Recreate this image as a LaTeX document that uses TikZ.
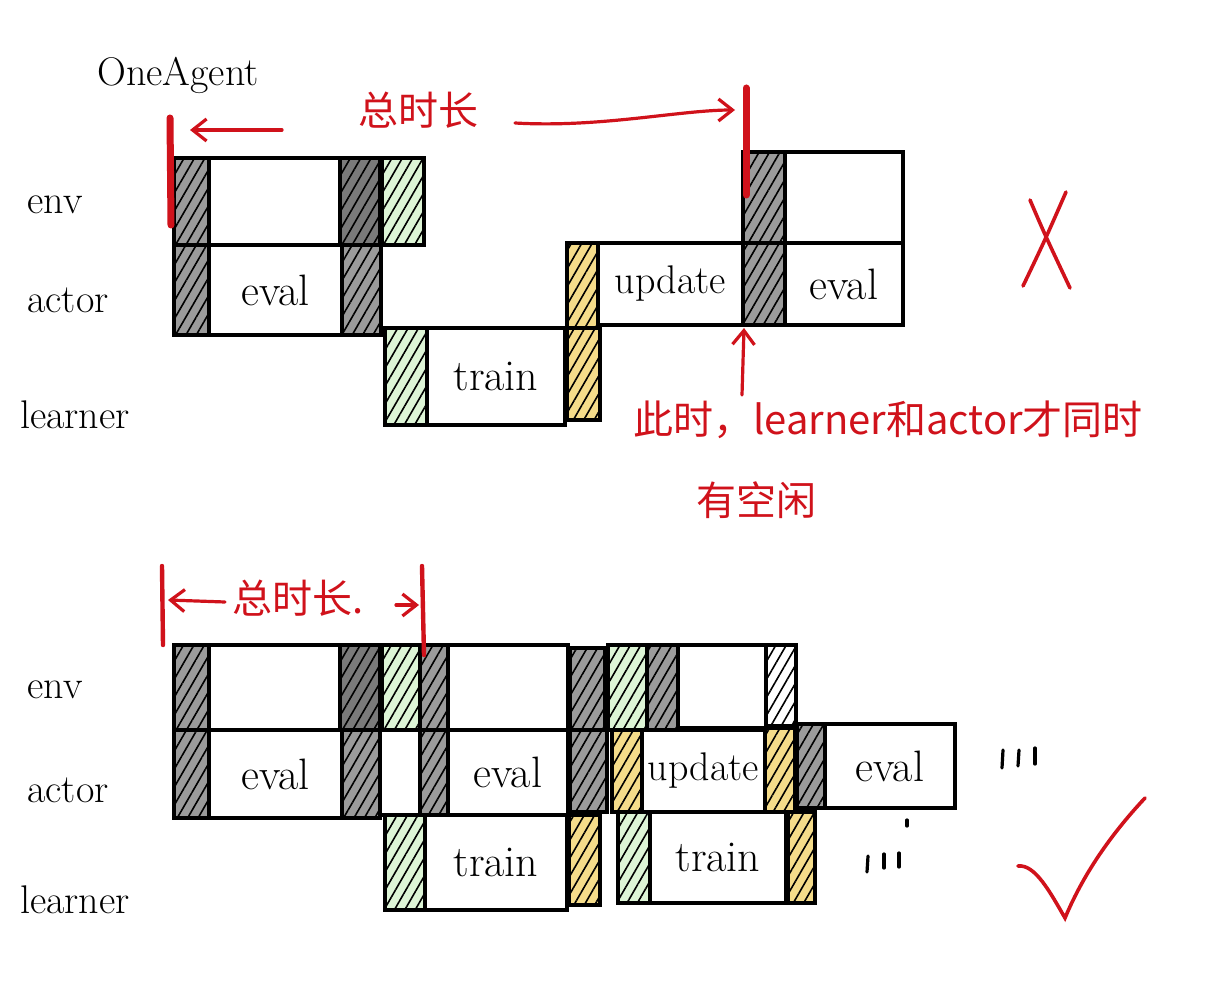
\documentclass[tikz,border=0pt]{standalone}
\usepackage{fontspec}
\newfontfamily\cjk{Noto Sans CJK SC}
\usetikzlibrary{patterns.meta,arrows.meta}
\definecolor{myred}{HTML}{D0121B}
\definecolor{hgray}{HTML}{9B9B9B}
\definecolor{dgray}{HTML}{7A7A7A}
\definecolor{hgreen}{HTML}{DDF5D6}
\definecolor{hyellow}{HTML}{F5DC8A}
\newcommand\cellbox[7]{\node[#6, minimum width={(#4-#2)*0.5pt}, minimum height={(#5-#3)*0.5pt}] (#1) at ({(#2+#4)/2},{(#3+#5)/2}) {#7};}
\tikzset{
  cellbase/.style={draw=black, line width=2pt, inner sep=0pt, outer sep=0pt, font=\fontsize{22}{26}\selectfont},
  whitecell/.style={cellbase, fill=white},
  hatch/.style={pattern={Lines[angle=60,distance=4.5pt,line width=0.8pt]}, pattern color=black},
  graycell/.style={cellbase, preaction={fill=hgray}, hatch},
  dgraycell/.style={cellbase, preaction={fill=dgray}, hatch},
  greencell/.style={cellbase, preaction={fill=hgreen}, hatch},
  yellowcell/.style={cellbase, preaction={fill=hyellow}, hatch},
  hwhitecell/.style={cellbase, preaction={fill=white}, hatch},
  rowlabel/.style={font=\fontsize{20}{24}\selectfont, inner sep=0pt},
  redtext/.style={text=myred, font=\cjk\fontsize{20}{24}\selectfont, inner sep=0pt},
  redline/.style={draw=myred, line width=1.6pt, line cap=round},
  redbar/.style={draw=myred, line width=3.5pt, line cap=round},
  redarrow/.style={redline, -{Straight Barb[length=7pt,width=11pt,line width=1.6pt]}},
  tick/.style={draw=black, line width=1.6pt, line cap=round}
}
\begin{document}
\begin{tikzpicture}[x=0.5pt,y=-0.5pt]
\useasboundingbox (0,0) rectangle (1209,999);
% ---------- top diagram ----------
\node[rowlabel] (oneagent) at (178,75) {OneAgent};
\node[rowlabel] (tenv) at (55,205) {env};
\node[rowlabel] (tactor) at (68,300) {actor};
\node[rowlabel] (tlearner) at (75,415) {learner};
% env row
\cellbox{te1}{174}{158}{209}{245}{graycell}{}
\cellbox{te2}{209}{158}{340}{245}{whitecell}{}
\cellbox{te3}{340}{158}{380}{245}{dgraycell}{}
\cellbox{te4}{382}{158}{424}{245}{greencell}{}
\cellbox{te5}{743}{152}{785}{243}{graycell}{}
\cellbox{te6}{785}{152}{903}{243}{whitecell}{}
% actor row
\cellbox{ta1}{174}{245}{209}{335}{graycell}{}
\cellbox{ta2}{209}{245}{342}{335}{whitecell}{eval}
\cellbox{ta3}{342}{245}{381}{335}{graycell}{}
\cellbox{ta4}{567}{243}{598}{328}{yellowcell}{}
\cellbox{ta5}{598}{243}{743}{325}{whitecell}{\fontsize{20}{24}\selectfont update}
\cellbox{ta6}{743}{243}{785}{325}{graycell}{}
\cellbox{ta7}{785}{243}{903}{325}{whitecell}{eval}
% learner row
\cellbox{tl1}{385}{328}{427}{425}{greencell}{}
\cellbox{tl2}{427}{328}{565}{425}{whitecell}{train}
\cellbox{tl3}{567}{328}{600}{420}{yellowcell}{}
% red annotations top
\coordinate (tb1a) at (170,118);
\coordinate (tb1b) at (171,225);
\draw[redbar] (tb1a) -- (tb1b);
\coordinate (tb2a) at (746,88);
\coordinate (tb2b) at (746,195);
\draw[redbar] (tb2a) -- (tb2b);
\node[redtext] (ttotal) at (418,110) {总时长};
\coordinate (tarrL0) at (282,130);
\coordinate (tarrL) at (190,130);
\draw[redarrow] (tarrL0) -- (tarrL);
\coordinate (tarrR0) at (515,123);
\coordinate (tarrR) at (735,110);
\draw[redarrow] (tarrR0) .. controls (600,128) and (680,110) .. (tarrR);
\node[redtext] (note1) at (888,420) {此时，learner和actor才同时};
\node[redtext] (note2) at (756,500) {有空闲};
\coordinate (upA) at (742,395);
\coordinate (upB) at (744,328);
\draw[redarrow] (upA) -- (upB);
% red cross
\coordinate (xa1) at (1030,200);
\coordinate (xa2) at (1070,288);
\coordinate (xb1) at (1066,192);
\coordinate (xb2) at (1023,286);
\draw[redline, line width=1.8pt] (xa1) .. controls (1045,235) .. (xa2);
\draw[redline, line width=1.8pt] (xb1) .. controls (1045,240) .. (xb2);
% ---------- bottom diagram ----------
\node[rowlabel] (benv) at (55,690) {env};
\node[rowlabel] (bactor) at (68,790) {actor};
\node[rowlabel] (blearner) at (75,900) {learner};
% env row
\cellbox{be1}{174}{645}{209}{730}{graycell}{}
\cellbox{be2}{209}{645}{340}{730}{whitecell}{}
\cellbox{be3}{340}{645}{380}{730}{dgraycell}{}
\cellbox{be4}{382}{645}{420}{730}{greencell}{}
\cellbox{be5}{420}{645}{448}{730}{graycell}{}
\cellbox{be6}{448}{645}{568}{730}{whitecell}{}
\cellbox{be7}{570}{648}{605}{730}{graycell}{}
\cellbox{be8}{608}{645}{647}{730}{greencell}{}
\cellbox{be9}{647}{645}{678}{730}{graycell}{}
\cellbox{be10}{678}{645}{766}{728}{whitecell}{}
\cellbox{be11}{766}{645}{796}{726}{hwhitecell}{}
% actor row
\cellbox{ba1}{174}{730}{209}{818}{graycell}{}
\cellbox{ba2}{209}{730}{342}{818}{whitecell}{eval}
\cellbox{ba3}{342}{730}{380}{818}{graycell}{}
\cellbox{ba4}{380}{730}{420}{815}{whitecell}{}
\cellbox{ba5}{420}{730}{448}{815}{graycell}{}
\cellbox{ba6}{448}{730}{568}{815}{whitecell}{eval}
\cellbox{ba7}{570}{730}{607}{812}{graycell}{}
\cellbox{ba8}{612}{730}{642}{812}{yellowcell}{}
\cellbox{ba9}{642}{730}{765}{812}{whitecell}{\fontsize{20}{24}\selectfont update}
\cellbox{ba10}{765}{728}{795}{812}{yellowcell}{}
\cellbox{ba11}{797}{724}{825}{808}{graycell}{}
\cellbox{ba12}{825}{724}{955}{808}{whitecell}{eval}
% learner row
\cellbox{bl1}{385}{815}{425}{910}{greencell}{}
\cellbox{bl2}{425}{815}{567}{910}{whitecell}{train}
\cellbox{bl3}{569}{815}{600}{905}{yellowcell}{}
\cellbox{bl4}{618}{812}{650}{903}{greencell}{}
\cellbox{bl5}{650}{812}{786}{903}{whitecell}{train}
\cellbox{bl6}{788}{812}{815}{903}{yellowcell}{}
% continuation marks
\coordinate (m1a) at (1003,750); \coordinate (m1b) at (1002,768);
\coordinate (m2a) at (1019,750); \coordinate (m2b) at (1018,766);
\coordinate (m3a) at (1035,748); \coordinate (m3b) at (1035,764);
\draw[tick] (m1a) -- (m1b); \draw[tick] (m2a) -- (m2b); \draw[tick] (m3a) -- (m3b);
\coordinate (n1a) at (868,856); \coordinate (n1b) at (867,872);
\coordinate (n2a) at (884,854); \coordinate (n2b) at (884,868);
\coordinate (n3a) at (899,853); \coordinate (n3b) at (899,867);
\coordinate (n4a) at (907,820); \coordinate (n4b) at (907,826);
\draw[tick] (n1a) -- (n1b); \draw[tick] (n2a) -- (n2b); \draw[tick] (n3a) -- (n3b); \draw[tick] (n4a) -- (n4b);
% red annotations bottom
\coordinate (bb1a) at (162,566);
\coordinate (bb1b) at (163,645);
\draw[redline, line width=2.2pt] (bb1a) -- (bb1b);
\coordinate (bb2a) at (422,566);
\coordinate (bb2b) at (424,655);
\draw[redline, line width=2.2pt] (bb2a) -- (bb2b);
\node[redtext] (btotal) at (298,598) {总时长.};
\coordinate (barrL0) at (225,602);
\coordinate (barrL) at (168,600);
\draw[redarrow] (barrL0) -- (barrL);
\coordinate (barrR0) at (396,605);
\coordinate (barrR) at (419,605);
\draw[redarrow] (barrR0) -- (barrR);
% red check
\coordinate (c1) at (1018,866);
\coordinate (c2) at (1065,918);
\coordinate (c3) at (1145,798);
\draw[redline, line width=1.8pt] (c1) .. controls (1035,864) and (1050,892) .. (c2) .. controls (1085,870) and (1115,830) .. (c3);
\end{tikzpicture}
\end{document}
